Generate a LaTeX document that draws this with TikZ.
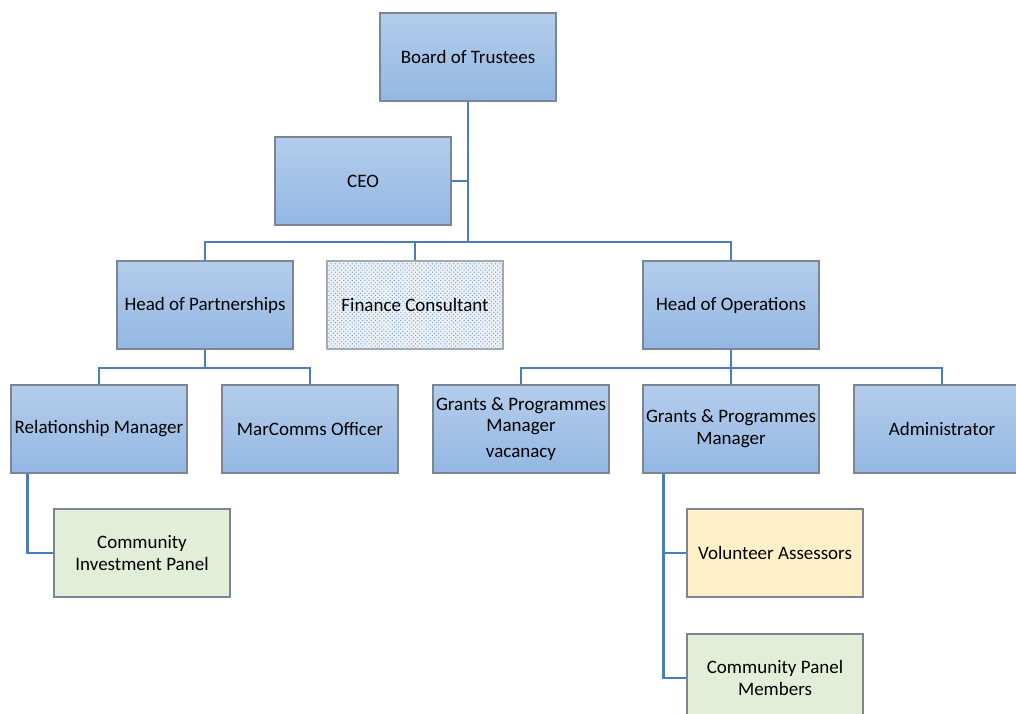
\documentclass[tikz,border=0pt]{standalone}
\usepackage{fontspec}
\setmainfont{Carlito}
\usepackage{xcolor}
\usetikzlibrary{patterns}

\definecolor{boxtop}{HTML}{B4CDEB}
\definecolor{boxbot}{HTML}{93B7E3}
\definecolor{boxline}{HTML}{7B8594}
\definecolor{linkblue}{HTML}{4A7EBB}
\definecolor{panelgreen}{HTML}{E3EED8}
\definecolor{assessyellow}{HTML}{FFF0C8}

\begin{document}
\begin{tikzpicture}[x=0.025cm, y=-0.025cm,
    plain/.style={draw=boxline, line width=0.8pt, rectangle, minimum width=4.4cm, minimum height=2.2cm,
                align=center, inner sep=1pt, font=\fontsize{13.5}{15.5}\selectfont},
    box/.style={plain, top color=boxtop, bottom color=boxbot},
    greenbox/.style={plain, fill=panelgreen},
    yellowbox/.style={plain, fill=assessyellow},
    dotbox/.style={plain, draw=boxline!70, preaction={fill=linkblue!10},
                   pattern=crosshatch dots, pattern color=linkblue!75},
    link/.style={draw=linkblue, line width=2.1pt}]
            \clip (0,0) rectangle (1016,713);
            \useasboundingbox (0,0) rectangle (1016,713);

            % top of the chart
            \node[box] (board) at (468,57) {Board of Trustees};
            \node[box] (ceo) at (363,181) {CEO};

            % heads
            \node[box] (hop) at (205,305) {Head of Partnerships};
            \node[dotbox] (fin) at (415,305) {Finance Consultant};
            \node[box] (hoo) at (731,305) {Head of Operations};

            % staff
            \node[box] (rel) at (99,429) {Relationship Manager};
            \node[box] (mar) at (310,429) {MarComms Officer};
            \node[box] (gpv) at (521,429) {Grants \& Programmes\\Manager\\[3pt]vacanacy};
            \node[box] (gpm) at (731,429) {Grants \& Programmes\\Manager};
            \node[box] (adm) at (942,429) {Administrator};

            % panels
            \node[greenbox] (cip) at (142,553) {Community\\Investment Panel};
            \node[yellowbox] (vol) at (775,553) {Volunteer Assessors};
            \node[greenbox] (cpm) at (775,678) {Community Panel\\Members};

            \coordinate (bus) at (468,242);
            \coordinate (pbus) at (205,368);
            \coordinate (obus) at (731,368);

            \draw[link] (board.south) -- (bus);
            \draw[link] (ceo.east) -- (ceo.east -| bus);
            \draw[link] (hop.north) |- (bus) -| (hoo.north);
            \draw[link] (fin.north) -- (fin.north |- bus);

            \draw[link] (hop.south) -- (pbus);
            \draw[link] (rel.north) |- (pbus) -| (mar.north);

            \draw[link] (hoo.south) -- (obus) -- (gpm.north);
            \draw[link] (gpv.north) |- (obus) -| (adm.north);

            \draw[link] (rel.south west) ++(17,0) |- (cip.west);
            \draw[link] (gpm.south west) ++(21,0) |- (vol.west);
            \draw[link] (gpm.south west) ++(21,0) |- (cpm.west);
        \end{tikzpicture}
\end{document}
